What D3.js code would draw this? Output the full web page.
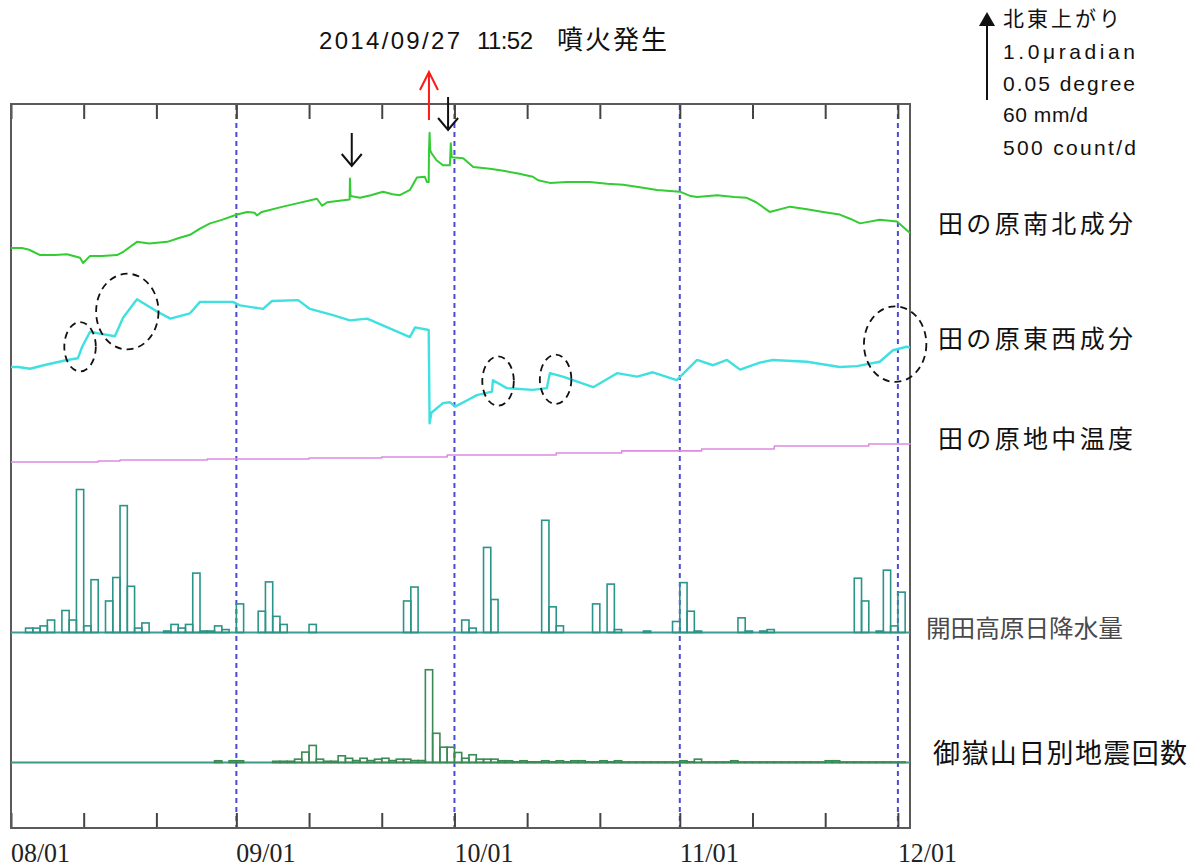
<!DOCTYPE html>
<html>
<head>
<meta charset="utf-8">
<script src="https://cdn.jsdelivr.net/npm/d3@7"></script>
<style>
  body { margin: 0; background: #fff; }
  svg { display: block; }
</style>
</head>
<body>
<svg id="chart" width="1200" height="868"></svg>
<script>
// ---- data ----------------------------------------------------------------
// tilt, north-south component (μradian, relative to 08/01)
const nsTilt = [
  ["08-01 00", 0.00], ["08-02 12", 0.00], ["08-03 12", -0.02], ["08-05 00", -0.08],
  ["08-07 00", -0.08], ["08-08 17", -0.07], ["08-10 12", -0.11], ["08-10 22", -0.17],
  ["08-11 21", -0.09], ["08-13 12", -0.09], ["08-15 14", -0.08], ["08-16 12", -0.04],
  ["08-18 08", 0.07], ["08-20 00", 0.05], ["08-22 12", 0.07], ["08-24 00", 0.11],
  ["08-25 15", 0.15], ["08-27 00", 0.22], ["08-28 09", 0.28], ["08-30 00", 0.32],
  ["09-01 02", 0.38], ["09-02 12", 0.41], ["09-03 12", 0.40], ["09-03 20", 0.37],
  ["09-04 12", 0.41], ["09-07 10", 0.47], ["09-09 12", 0.51], ["09-12 02", 0.56],
  ["09-12 19", 0.48], ["09-13 12", 0.52], ["09-16 14", 0.55], ["09-16 15", 0.79],
  ["09-16 17", 0.59], ["09-18 00", 0.57], ["09-19 12", 0.60], ["09-21 04", 0.64],
  ["09-22 12", 0.61], ["09-23 12", 0.60], ["09-24 21", 0.66], ["09-25 20", 0.80],
  ["09-26 22", 0.81], ["09-27 05", 0.75], ["09-27 11", 0.75], ["09-27 12", 1.11],
  ["09-27 14", 1.31], ["09-27 16", 1.11], ["09-27 20", 1.08], ["09-28 12", 1.00],
  ["09-29 10", 0.94], ["09-30 09", 0.94], ["09-30 12", 1.19], ["09-30 15", 1.03],
  ["10-02 05", 1.02], ["10-03 14", 0.92], ["10-05 21", 0.90], ["10-07 12", 0.88],
  ["10-09 14", 0.85], ["10-11 19", 0.81], ["10-12 12", 0.77], ["10-14 03", 0.74],
  ["10-16 12", 0.75], ["10-19 15", 0.75], ["10-22 00", 0.73], ["10-24 05", 0.72],
  ["10-26 12", 0.69], ["10-28 21", 0.66], ["11-01 00", 0.64], ["11-02 12", 0.59],
  ["11-03 09", 0.58], ["11-06 03", 0.60], ["11-08 12", 0.58], ["11-10 05", 0.57],
  ["11-11 12", 0.52], ["11-13 09", 0.41], ["11-16 04", 0.47], ["11-18 12", 0.44],
  ["11-20 17", 0.41], ["11-23 00", 0.38], ["11-24 12", 0.33], ["11-25 19", 0.28],
  ["11-28 12", 0.32], ["11-30 21", 0.30], ["12-02 16", 0.17]
];

// tilt, east-west component (μradian, relative to 08/01)
const ewTilt = [
  ["08-01 00", 0.00], ["08-02 00", 0.00], ["08-03 15", -0.02], ["08-05 12", 0.02],
  ["08-08 17", 0.08], ["08-10 05", 0.10], ["08-10 19", 0.23], ["08-11 21", 0.40],
  ["08-13 05", 0.38], ["08-15 07", 0.35], ["08-16 10", 0.56], ["08-18 08", 0.77],
  ["08-21 02", 0.63], ["08-22 22", 0.55], ["08-25 15", 0.61], ["08-27 00", 0.74],
  ["08-31 12", 0.74], ["09-01 12", 0.70], ["09-04 16", 0.66], ["09-05 22", 0.75],
  ["09-09 12", 0.76], ["09-11 03", 0.66], ["09-14 07", 0.59], ["09-16 15", 0.53],
  ["09-19 00", 0.55], ["09-24 21", 0.34], ["09-25 14", 0.45], ["09-27 11", 0.42],
  ["09-27 14", -0.64], ["09-27 20", -0.52], ["09-29 10", -0.41], ["09-30 09", -0.40],
  ["10-01 02", -0.45], ["10-02 17", -0.38], ["10-04 02", -0.32], ["10-06 04", -0.28],
  ["10-06 07", -0.15], ["10-08 05", -0.24], ["10-11 19", -0.26], ["10-13 17", -0.24],
  ["10-14 03", -0.07], ["10-15 22", -0.11], ["10-20 02", -0.23], ["10-23 09", -0.07],
  ["10-26 03", -0.11], ["10-28 07", -0.06], ["10-31 14", -0.15], ["11-03 09", 0.08],
  ["11-05 14", 0.02], ["11-07 12", 0.08], ["11-09 07", -0.03], ["11-12 00", 0.05],
  ["11-13 19", 0.08], ["11-18 12", 0.06], ["11-23 00", 0.00], ["11-25 09", 0.01],
  ["11-28 12", 0.06], ["11-30 08", 0.19], ["12-02 05", 0.23], ["12-02 16", 0.22]
];

// ground temperature (degree, relative to 08/01)
const groundTemp = [
  ["08-01 00", 0.0000], ["08-13 00", 0.0006], ["08-16 00", 0.0011], ["08-28 00", 0.0017],
  ["09-11 00", 0.0023], ["09-21 00", 0.0028], ["09-30 00", 0.0040], ["10-15 00", 0.0051],
  ["10-24 00", 0.0063], ["11-04 00", 0.0074], ["11-14 00", 0.0091], ["11-27 00", 0.0102],
  ["12-02 16", 0.0108]
];

// daily precipitation (mm/d), one value per day from 08/01
const dailyRain = [
  0, 0, 3, 3, 4.5, 8.5, 0, 15, 8.5, 97.5,          // 08/01-08/10
  4.5, 36, 0, 21.5, 37.5, 86.5, 31.5, 3, 6.5, 0,    // 08/11-08/20
  0, 1, 5.5, 3, 5.5, 40.5, 1, 1, 4.5, 2, 0,         // 08/21-08/31
  19.5, 0, 0, 14.5, 34.5, 11, 5.5, 0, 0, 0,         // 09/01-09/10
  5.5, 0, 0, 0, 0, 0, 0, 0, 0, 0,                   // 09/11-09/20
  0, 0, 0, 21.5, 31, 0, 0, 0, 0, 0,                 // 09/21-09/30
  0, 8.5, 3, 0, 58, 22.5, 0, 0, 0, 0,               // 10/01-10/10
  0, 0, 76.5, 17.5, 4.5, 0, 0, 0, 0, 19.5,          // 10/11-10/20
  0, 33, 2, 0, 0, 0, 1, 0, 0, 0, 7.5,               // 10/21-10/31
  34, 14.5, 1, 0, 0, 0, 0, 0, 10, 1,                // 11/01-11/10
  0, 1, 2, 0, 0, 0, 0, 0, 0, 0,                     // 11/11-11/20
  0, 0, 0, 0, 37, 21.5, 0, 1, 42.5, 4.5,            // 11/21-11/30
  27.5                                              // 12/01
];

// daily earthquake count (count/d), one value per day from 08/01
const dailyQuakes = [
  0, 0, 0, 0, 0, 0, 0, 0, 0, 0,                     // 08/01-08/10
  0, 0, 0, 0, 0, 0, 0, 0, 0, 0,                     // 08/11-08/20
  0, 0, 0, 0, 0, 0, 0, 0, 10, 0, 10,                // 08/21-08/31
  10, 0, 0, 0, 0, 7, 7, 7, 19, 59,                  // 09/01-09/10
  97, 19, 7, 7, 38, 24, 11, 24, 11, 19,             // 09/11-09/20
  24, 11, 19, 19, 11, 11, 527, 166, 87, 87,         // 09/21-09/30
  57, 24, 44, 19, 19, 19, 10, 10, 4, 10,            // 10/01-10/10
  4, 4, 10, 4, 10, 4, 10, 10, 4, 4,                 // 10/11-10/20
  10, 4, 10, 3, 3, 3, 3, 3, 3, 3, 3,                // 10/21-10/31
  10, 4, 19, 3, 3, 3, 3, 10, 3, 3,                  // 11/01-11/10
  3, 3, 3, 3, 3, 3, 3, 3, 3, 3,                     // 11/11-11/20
  10, 10, 3, 3, 3, 3, 3, 3, 3, 3,                   // 11/21-11/30
  3                                                 // 12/01
];

// marked tilt changes: centre time, centre EW value, half-width (days), half-height (μradian)
const markedChanges = [
  ["08-10 12", 0.23, 2.2, 0.28],
  ["08-17 00", 0.63, 4.3, 0.43],
  ["10-07 00", -0.16, 2.2, 0.28],
  ["10-14 22", -0.14, 2.2, 0.28],
  ["11-30 15", 0.26, 4.3, 0.43]
];

const eruptionTime = "09-27 11";      // 2014/09/27 11:52
const eruptionMinute = 52;
const stepMarks = ["09-16 21", "09-30 03"];

const monthLabels = ["08/01", "09/01", "10/01", "11/01", "12/01"];
const scaleLines = ["1.0\u03bcradian", "0.05 degree", "60 mm/d", "500 count/d"];
const traceNames = ["田の原南北成分", "田の原東西成分", "田の原地中温度"];

// ---- scales --------------------------------------------------------------
const parse = d3.timeParse("%Y-%m-%d %H");
const t = s => parse("2014-" + s);
const parseMonth = d3.timeParse("%Y/%m/%d");
const start = t("08-01 00");
const end = t("12-02 16");

const L = 88;   // length of the scale arrow, px
const plotLeft = 11, plotRight = 910, plotTop = 104, plotBottom = 828;

const x = d3.scaleTime().domain([start, end]).range([plotLeft, plotRight]);
const yNS = d3.scaleLinear().domain([0, 1.0]).range([248, 248 - L]);
const yEW = d3.scaleLinear().domain([0, 1.0]).range([367, 367 - L]);
const yTemp = d3.scaleLinear().domain([0, 0.05]).range([462, 462 - L]);
const yRain = d3.scaleLinear().domain([0, 60]).range([632.5, 632.5 - L]);
const yQuake = d3.scaleLinear().domain([0, 500]).range([762.5, 762.5 - L]);

const svg = d3.select("#chart");
const jp = "'Noto Sans CJK JP', 'Noto Sans', sans-serif";

// ---- month separators ----------------------------------------------------
const monthStarts = monthLabels.map(m => parseMonth("2014/" + m));
svg.append("g").selectAll("line")
  .data(monthStarts.slice(1))
  .join("line")
  .attr("x1", d => x(d)).attr("x2", d => x(d))
  .attr("y1", plotTop + 1).attr("y2", plotBottom - 1)
  .attr("stroke", "#4b4bd2").attr("stroke-width", 2)
  .attr("stroke-dasharray", "5,4");

// ---- frame and ticks -----------------------------------------------------
const tickDates = d3.timeDays(start, end).filter(d => [1, 11, 21].includes(d.getDate()));

const topAxis = svg.append("g").attr("transform", `translate(0,${plotTop})`)
  .call(d3.axisBottom(x).tickValues(tickDates).tickSize(15).tickFormat(""));
const botAxis = svg.append("g").attr("transform", `translate(0,${plotBottom})`)
  .call(d3.axisTop(x).tickValues(tickDates).tickSize(15).tickFormat(""));
[topAxis, botAxis].forEach(g => {
  g.select(".domain").remove();
  g.selectAll(".tick line").attr("stroke", "#444").attr("stroke-width", 2);
});

svg.append("rect")
  .attr("x", plotLeft).attr("y", plotTop)
  .attr("width", plotRight - plotLeft).attr("height", plotBottom - plotTop)
  .attr("fill", "none").attr("stroke", "#5a5a5a").attr("stroke-width", 2);

svg.append("g").selectAll("text")
  .data(monthLabels)
  .join("text")
  .attr("x", (d, i) => x(monthStarts[i]))
  .attr("y", 862)
  .attr("font-family", "'Liberation Serif', serif")
  .attr("font-size", 27)
  .attr("textLength", 59).attr("lengthAdjust", "spacingAndGlyphs")
  .attr("fill", "#222")
  .text(d => d);

// ---- baselines of the daily panels ----------------------------------------
svg.append("line")
  .attr("x1", plotLeft).attr("x2", plotRight)
  .attr("y1", yRain(0)).attr("y2", yRain(0))
  .attr("stroke", "#3a9e96").attr("stroke-width", 2);
svg.append("line")
  .attr("x1", plotLeft).attr("x2", plotRight)
  .attr("y1", yQuake(0)).attr("y2", yQuake(0))
  .attr("stroke", "#3a9a84").attr("stroke-width", 2);

// ---- daily bars ------------------------------------------------------------
function bars(values, y, color) {
  const data = values.map((v, i) => ({ d: d3.timeDay.offset(start, i), v }))
    .filter(e => e.v > 0);
  svg.append("g").selectAll("rect")
    .data(data)
    .join("rect")
    .attr("x", e => x(e.d))
    .attr("width", e => x(d3.timeDay.offset(e.d, 1)) - x(e.d))
    .attr("y", e => y(e.v))
    .attr("height", e => y(0) - y(e.v))
    .attr("fill", "none")
    .attr("stroke", color)
    .attr("stroke-width", 1.6);
}
bars(dailyRain, yRain, "#2b9488");
bars(dailyQuakes, yQuake, "#3a8a55");

// ---- continuous traces -----------------------------------------------------
function trace(data, y, color, width, curve) {
  svg.append("path")
    .datum(data)
    .attr("fill", "none")
    .attr("stroke", color)
    .attr("stroke-width", width)
    .attr("stroke-linejoin", "round")
    .attr("d", d3.line().x(d => x(t(d[0]))).y(d => y(d[1])).curve(curve));
}
trace(groundTemp, yTemp, "#dd8ce0", 1.6, d3.curveStepAfter);
trace(ewTilt, yEW, "#3fe0e0", 2.4, d3.curveLinear);
trace(nsTilt, yNS, "#33cc33", 2, d3.curveLinear);

// ---- dashed circles around tilt changes -----------------------------------
svg.append("g").selectAll("ellipse")
  .data(markedChanges)
  .join("ellipse")
  .attr("cx", d => x(t(d[0])))
  .attr("cy", d => yEW(d[1]))
  .attr("rx", d => x(d3.timeHour.offset(t(d[0]), d[2] * 24)) - x(t(d[0])))
  .attr("ry", d => yEW(0) - yEW(d[3]))
  .attr("fill", "none")
  .attr("stroke", "#111")
  .attr("stroke-width", 1.8)
  .attr("stroke-dasharray", "7,5");

// ---- eruption arrow and step arrows ---------------------------------------
const ex = x(d3.timeMinute.offset(t(eruptionTime), eruptionMinute));
svg.append("path")
  .attr("d", `M${ex},120 V72 M${ex - 9},90 L${ex},72 L${ex + 9},90`)
  .attr("fill", "none").attr("stroke", "#ff1a1a").attr("stroke-width", 2);

const arrowTops = [133, 97];
stepMarks.forEach((m, i) => {
  const ax = x(t(m));
  const y0 = arrowTops[i], y1 = y0 + 33;
  svg.append("path")
    .attr("d", `M${ax},${y0} V${y1} M${ax - 10},${y1 - 12} L${ax},${y1} L${ax + 10},${y1 - 12}`)
    .attr("fill", "none").attr("stroke", "#111").attr("stroke-width", 2);
});

// ---- title ---------------------------------------------------------------
const title = svg.append("g").attr("font-family", "'Liberation Sans', Arial, sans-serif")
  .attr("font-size", 24).attr("fill", "#111");
title.append("text").attr("x", 319).attr("y", 49)
  .attr("textLength", 141).attr("lengthAdjust", "spacing").text("2014/09/27");
title.append("text").attr("x", 477).attr("y", 49)
  .attr("textLength", 56).attr("lengthAdjust", "spacing").text("11:52");
title.append("text").attr("x", 557).attr("y", 49)
  .attr("font-family", jp).attr("font-size", 26)
  .attr("textLength", 110).attr("lengthAdjust", "spacing").text("噴火発生");

// ---- scale legend ----------------------------------------------------------
svg.append("line")
  .attr("x1", 987).attr("x2", 987).attr("y1", 25).attr("y2", 100)
  .attr("stroke", "#111").attr("stroke-width", 2);
svg.append("path")
  .attr("d", "M987,12 L995,26 L979,26 Z").attr("fill", "#111");
svg.append("text")
  .attr("x", 1003).attr("y", 26)
  .attr("font-family", jp).attr("font-size", 21)
  .attr("textLength", 117).attr("lengthAdjust", "spacing")
  .attr("fill", "#111").text("北東上がり");
const scaleWidths = [132, 132, 85, 133];
const scaleBase = [59, 91, 122, 155];
svg.append("g").selectAll("text")
  .data(scaleLines)
  .join("text")
  .attr("x", 1003)
  .attr("y", (d, i) => scaleBase[i])
  .attr("font-family", "'Liberation Sans', Arial, sans-serif")
  .attr("font-size", 21)
  .attr("textLength", (d, i) => scaleWidths[i])
  .attr("lengthAdjust", "spacing")
  .attr("fill", "#111")
  .text(d => d);

// ---- trace names -------------------------------------------------------------
const nameBase = [233, 348, 448];
svg.append("g").selectAll("text")
  .data(traceNames)
  .join("text")
  .attr("x", 938)
  .attr("y", (d, i) => nameBase[i])
  .attr("font-family", jp).attr("font-size", 25)
  .attr("textLength", 195).attr("lengthAdjust", "spacing")
  .attr("fill", "#111")
  .text(d => d);

svg.append("text")
  .attr("x", 926).attr("y", 637)
  .attr("font-family", jp).attr("font-size", 24)
  .attr("textLength", 197).attr("lengthAdjust", "spacingAndGlyphs")
  .attr("fill", "#4a4a4a")
  .text("開田高原日降水量");

svg.append("text")
  .attr("x", 933).attr("y", 763)
  .attr("font-family", jp).attr("font-size", 27)
  .attr("textLength", 254).attr("lengthAdjust", "spacing")
  .attr("fill", "#111")
  .text("御嶽山日別地震回数");
</script>
</body>
</html>
